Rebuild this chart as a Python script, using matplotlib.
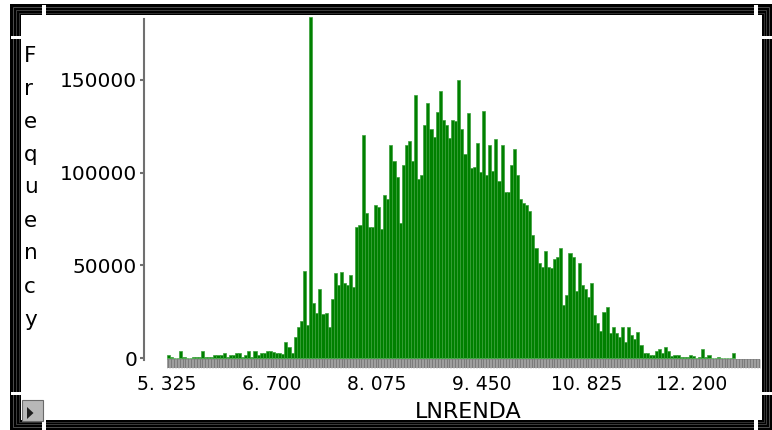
import matplotlib
matplotlib.use("Agg")
import matplotlib.pyplot as plt
from matplotlib.patches import Rectangle, Polygon
import numpy as np

# ---------------- data ----------------
bin_start = 5.325
bin_width = 1.375 / 34

counts_left_tail = [1600, 400, 0, 0, 3600, 700, 0, 0, 300, 500, 500, 3600, 400, 400, 400,
                    1800, 1800, 1800, 2900, 700, 1800, 1800, 2900, 2900, 400, 1800, 3600,
                    700, 3600, 1800, 2900, 2900, 3600, 3600, 3000, 2500, 2900, 2200]
counts_body = [8800, 5900, 2700, 11300, 16900, 20000, 46900, 17800, 184000, 29600,
               24300, 37200, 23700, 24300, 16700, 31800, 45800, 39400, 46500, 40400,
               39400, 44800, 38500, 70800, 71700, 120200, 78000, 70800, 70800, 82500,
               81600, 69400, 87900, 85500, 114800, 106200, 97700, 72600, 104000, 114800,
               117100, 106400, 141800, 96800, 98600, 125600, 137300, 123400, 119000, 132800,
               143900, 128600, 125600, 118400, 128600, 127700, 150200, 123400, 110300, 132200,
               102600, 103000, 116100, 100400, 133100, 98600, 114800, 101000, 118000, 95600,
               114800, 89600, 89600, 104000, 112700, 98600, 85500, 83400, 82500, 79200,
               66300, 59600, 51400, 49200, 57700, 49200, 48300, 53200, 54300, 59600,
               28600, 34000, 56800, 54300, 36300, 51000, 39300, 37000, 33000, 40200,
               23200, 18700, 14700, 25000, 27300, 13300, 16500, 13300, 11100, 16500,
               8800, 16500, 12400, 10100, 14200, 7000, 2900, 2700, 1800, 1800,
               3600, 4700, 2500, 5700, 3600, 1100, 1800, 1800, 400, 400]
counts_right_tail = [400, 1800, 1000, 0, 700, 4700, 400, 1800, 0, 0, 700, 0, 0, 0, 0, 2900]

counts = np.array(counts_left_tail + counts_body + counts_right_tail, dtype=float)

x_ticks = [5.325, 6.700, 8.075, 9.450, 10.825, 12.200]
x_tick_labels = ["5. 325", "6. 700", "8. 075", "9. 450", "10. 825", "12. 200"]
y_ticks = [0, 50000, 100000, 150000]
y_tick_labels = ["0", "50000", "100000", "150000"]
x_label = "LNRENDA"
y_label = "Frequency"

# ---------------- figure ----------------
W, H = 772, 430
fig = plt.figure(figsize=(W / 100, H / 100), dpi=100)
fig.patch.set_facecolor("white")

px_per_unit = 105 / 1.375
val_per_px = 50000 / 92.7

ax_l, ax_r, ax_t, ax_b = 144, 760, 17, 360
ax = fig.add_axes([ax_l / W, 1 - ax_b / H, (ax_r - ax_l) / W, (ax_b - ax_t) / H])
x0 = bin_start - (167 - ax_l) / px_per_unit
x1 = bin_start + (ax_r - 167) / px_per_unit
ax.set_xlim(x0, x1)
ybot = -(ax_b - 358) * val_per_px
ytop = (358 - ax_t) * val_per_px
ax.set_ylim(ybot, ytop)
ax.patch.set_visible(False)

edges = bin_start + bin_width * np.arange(len(counts))
ax.bar(edges, counts, width=bin_width, align="edge", color="#008000",
       edgecolor="#3aa03a", linewidth=0.5, zorder=3)

# rug band under the bars
band_top = -(359 - 358) * val_per_px
band_bot = -(368 - 358) * val_per_px
ax.add_patch(Rectangle((bin_start, band_bot), x1 - bin_start, band_top - band_bot,
                       facecolor="#7c7c7c", edgecolor="none", clip_on=False, zorder=2))
rug_x = np.arange(bin_start, x1, bin_width / 2)
ax.vlines(rug_x, band_bot, band_top, colors="#b4b4b4", linewidth=0.45,
          clip_on=False, zorder=2.5)

for s in ["top", "right", "bottom"]:
    ax.spines[s].set_visible(False)
ax.spines["left"].set_color("#707070")
ax.spines["left"].set_linewidth(1.5)
ax.spines["left"].set_bounds(ybot, (358 - 19) * val_per_px)

ax.set_yticks(y_ticks)
ax.set_yticklabels(y_tick_labels, fontsize=14.5, family="DejaVu Sans", color="black")
ax.tick_params(axis="y", length=3, width=1.5, color="#707070", pad=2)
ax.set_xticks(x_ticks)
ax.set_xticklabels(x_tick_labels, fontsize=13.5, family="DejaVu Sans", color="black")
ax.tick_params(axis="x", length=0, pad=10.5)

# ---------------- overlay (frame, labels) ----------------
ov = fig.add_axes([0, 0, 1, 1])
ov.set_xlim(0, W)
ov.set_ylim(H, 0)
ov.axis("off")
ov.patch.set_visible(False)

# window frame
L, T, R, B = 10, 4, 772, 430
bw = 11
for rect in [(L, T, R - L, bw), (L, B - bw + 1, R - L, bw),
             (L, T, bw, B - T), (R - bw + 1, T, bw, B - T)]:
    ov.add_patch(Rectangle((rect[0], rect[1]), rect[2], rect[3], facecolor="black",
                           edgecolor="none"))
for off, col in [(3, "#5a5a5a"), (6, "#484848"), (8.5, "#3a3a3a")]:
    ov.add_patch(Rectangle((L + off, T + off), (R - L) - 2 * off, (B - T) - 2 * off,
                           facecolor="none", edgecolor=col, linewidth=0.6))
# white notches
for xn in [42, 754]:
    ov.add_patch(Rectangle((xn, T + 1), 4, bw - 1, facecolor="white", edgecolor="none"))
    ov.add_patch(Rectangle((xn, B - bw + 1), 4, bw - 1, facecolor="white", edgecolor="none"))
for yn in [36, 392]:
    ov.add_patch(Rectangle((L + 1, yn), bw - 1, 3, facecolor="white", edgecolor="none"))
    ov.add_patch(Rectangle((R - bw + 1, yn), bw - 1, 3, facecolor="white", edgecolor="none"))
# little button lower-left
ov.add_patch(Rectangle((22, 400), 21, 21, facecolor="#b8b8b8", edgecolor="#6a6a6a",
                       linewidth=0.8))
ov.add_patch(Polygon([(27, 407), (27, 419), (33.5, 413)], closed=True,
                     facecolor="#202020", edgecolor="none"))

# y label as stacked letters
baselines = [62, 95, 128, 161, 193, 227, 259, 293, 326]
for ch, yb in zip(y_label, baselines):
    ov.text(24, yb, ch, fontsize=15.5, family="DejaVu Sans", ha="left", va="baseline",
            color="black")

ov.text(468, 418, x_label, fontsize=16, family="DejaVu Sans", ha="center",
        va="baseline", color="black")

fig.savefig("out.png", dpi=100)
